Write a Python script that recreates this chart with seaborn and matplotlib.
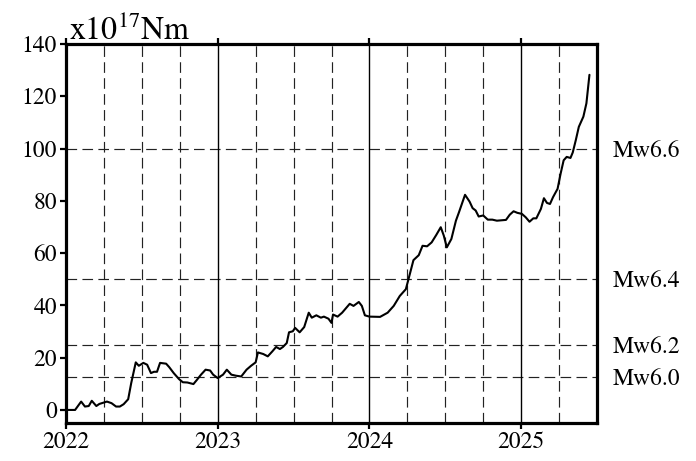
import numpy as np
import pandas as pd
import seaborn as sns
import matplotlib
matplotlib.use("Agg")
import matplotlib.pyplot as plt

# --- data (decimal year, cumulative moment in 1e17 Nm) ---
year_frac = [
    2022.00, 2022.06, 2022.10, 2022.125, 2022.15, 2022.17, 2022.20, 2022.22,
    2022.27, 2022.30, 2022.33, 2022.355, 2022.38, 2022.41, 2022.43, 2022.46,
    2022.48, 2022.51, 2022.535, 2022.56, 2022.58, 2022.60, 2022.62, 2022.66,
    2022.68, 2022.71, 2022.745, 2022.77, 2022.80, 2022.84, 2022.86, 2022.89,
    2022.92, 2022.95, 2022.97, 2023.00, 2023.035, 2023.06, 2023.09, 2023.12,
    2023.155, 2023.19, 2023.22, 2023.25, 2023.265, 2023.30, 2023.33, 2023.36,
    2023.385, 2023.41, 2023.43, 2023.455, 2023.47, 2023.495, 2023.51, 2023.54,
    2023.57, 2023.60, 2023.62, 2023.65, 2023.68, 2023.70, 2023.73, 2023.75,
    2023.76, 2023.79, 2023.82, 2023.87, 2023.895, 2023.93, 2023.95, 2023.97,
    2024.00, 2024.07, 2024.12, 2024.16, 2024.20, 2024.24, 2024.26, 2024.29,
    2024.325, 2024.35, 2024.38, 2024.41, 2024.44, 2024.47, 2024.49, 2024.51,
    2024.54, 2024.57, 2024.59, 2024.63, 2024.66, 2024.68, 2024.70, 2024.72,
    2024.75, 2024.78, 2024.81, 2024.84, 2024.90, 2024.925, 2024.95, 2024.975,
    2025.005, 2025.03, 2025.055, 2025.08, 2025.10, 2025.13, 2025.15, 2025.17,
    2025.19, 2025.21, 2025.24, 2025.26, 2025.28, 2025.30, 2025.325, 2025.34,
    2025.36, 2025.38, 2025.41, 2025.43, 2025.45,
]
moment = [
    0.0, 0.0, 3.2, 1.3, 1.5, 3.5, 1.5, 2.3,
    3.2, 2.6, 1.3, 1.3, 2.2, 4.1, 10.3, 18.2,
    16.9, 18.0, 17.3, 14.1, 14.6, 14.6, 18.0, 17.7,
    16.4, 14.1, 11.8, 10.6, 10.5, 9.9, 11.3, 13.5,
    15.4, 15.1, 13.5, 12.2, 13.5, 15.4, 13.5, 13.1,
    12.8, 15.4, 16.9, 18.2, 22.0, 21.4, 20.5, 22.4,
    24.1, 23.3, 24.1, 25.6, 29.7, 30.1, 31.4, 29.7,
    31.7, 37.2, 35.3, 36.2, 35.3, 35.7, 34.9, 33.3,
    36.5, 35.7, 37.2, 40.6, 39.8, 41.3, 39.8, 36.2,
    35.7, 35.6, 37.2, 39.8, 43.6, 46.2, 50.6, 57.3,
    59.2, 62.8, 62.6, 64.1, 66.9, 69.9, 66.7, 62.2,
    65.4, 72.4, 75.6, 82.3, 79.7, 77.2, 76.3, 74.0,
    74.4, 72.8, 72.8, 72.4, 72.7, 74.7, 76.0, 75.4,
    75.0, 73.7, 72.0, 73.3, 73.3, 76.9, 81.0, 79.2,
    78.8, 81.4, 84.6, 90.4, 95.5, 96.8, 96.4, 98.5,
    103.2, 108.3, 112.2, 117.3, 128.2,
]

year_ticks = [2022, 2023, 2024, 2025]
year_labels = ["2022", "2023", "2024", "2025"]
quarter_lines = [2022.25, 2022.5, 2022.75, 2023.25, 2023.5, 2023.75,
                 2024.25, 2024.5, 2024.75, 2025.25]
moment_ticks = [0, 20, 40, 60, 80, 100, 120, 140]
mw_levels = [12.5, 25, 50, 100]
mw_labels = ["Mw6.0", "Mw6.2", "Mw6.4", "Mw6.6"]

df = pd.DataFrame({"year": year_frac, "moment": moment})

sns.set_style("ticks")
serif = ["TeX Gyre Termes", "Liberation Serif", "DejaVu Serif"]
plt.rcParams["font.family"] = serif
plt.rcParams["mathtext.fontset"] = "custom"
plt.rcParams["mathtext.rm"] = "TeX Gyre Termes"
plt.rcParams["text.color"] = "black"
plt.rcParams["axes.edgecolor"] = "black"

fig = plt.figure(figsize=(6.96, 4.61), dpi=100)
ax = fig.add_axes([0.0948, 0.0824, 0.763, 0.8222])

# grid: dashed quarters + magnitude levels, solid year lines
dash = (0, (9, 4.5))
for q in quarter_lines:
    ax.axvline(q, color="#222222", lw=0.85, ls=dash, zorder=1)
for lev in mw_levels:
    ax.axhline(lev, color="#222222", lw=0.85, ls=dash, zorder=1)
for yr in year_ticks[1:]:
    ax.axvline(yr, color="black", lw=1.0, zorder=1)

sns.lineplot(data=df, x="year", y="moment", ax=ax, color="black",
             lw=1.5, sort=False, estimator=None, zorder=3)

ax.set_xlim(2022, 2025.5)
ax.set_ylim(-5, 140)
ax.set_xticks(year_ticks)
ax.set_xticklabels(year_labels)
ax.set_yticks(moment_ticks)
ax.set_xlabel("")
ax.set_ylabel("")

for side in ["left", "right", "top", "bottom"]:
    ax.spines[side].set_linewidth(2.3)
    ax.spines[side].set_color("black")
    ax.spines[side].set_visible(True)

ax.tick_params(axis="both", direction="out", length=4.5, width=1.6,
               labelsize=17, pad=2, colors="black")
ax.tick_params(axis="x", top=True, pad=2)
ax.tick_params(axis="y", right=True)

# magnitude labels on the right
ax2 = ax.twinx()
ax2.set_ylim(ax.get_ylim())
ax2.set_yticks(mw_levels)
ax2.set_yticklabels(mw_labels)
ax2.tick_params(axis="y", length=0, pad=11, labelsize=17, colors="black")
for side in ["left", "right", "top", "bottom"]:
    ax2.spines[side].set_visible(False)

ax.text(0.006, 1.011, r"x10$^{\mathregular{17}}$Nm", transform=ax.transAxes,
        fontsize=23, ha="left", va="baseline", color="black")

fig.savefig("out.png", dpi=100)
